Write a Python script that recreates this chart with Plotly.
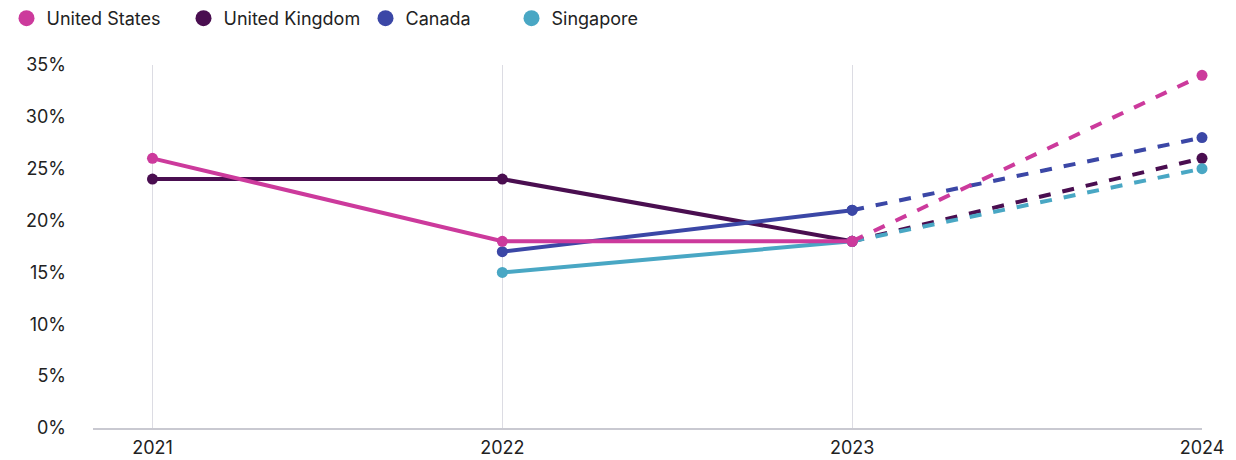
import plotly.graph_objects as go

years = [2021, 2022, 2023, 2024]
countries = ["United States", "United Kingdom", "Canada", "Singapore"]
us = [26, 18, 18, 34]
uk = [24, 24, 18, 26]
canada = [None, 17, 21, 28]
singapore = [None, 15, 18, 25]
y_ticks = [0, 5, 10, 15, 20, 25, 30, 35]
y_tick_labels = [f"{v}%" for v in y_ticks]

colors = {
    "United States": "#cc3a9c",
    "United Kingdom": "#4a0e50",
    "Canada": "#3b47a6",
    "Singapore": "#49a7c4",
}
series = {
    "United States": us,
    "United Kingdom": uk,
    "Canada": canada,
    "Singapore": singapore,
}

W, ML, MR = 1236, 93, 34
PW = W - ML - MR
legend_px = [6.5, 183.5, 365.5, 511.5]
legend_ids = ["legend", "legend2", "legend3", "legend4"]

fig = go.Figure()

for name, lid in zip(countries, legend_ids):
    fig.add_trace(go.Scatter(
        x=[None], y=[None], mode="markers", name=name,
        marker=dict(size=16, color=colors[name]),
        showlegend=True, legend=lid,
    ))

draw_order = ["United Kingdom", "Singapore", "Canada", "United States"]
for name in draw_order:
    vals = series[name]
    c = colors[name]
    fig.add_trace(go.Scatter(
        x=years[:3], y=vals[:3], mode="lines+markers", showlegend=False,
        line=dict(color=c, width=4), marker=dict(size=11, color=c),
        cliponaxis=False, hoverinfo="skip",
    ))
    fig.add_trace(go.Scatter(
        x=years[2:], y=vals[2:], mode="lines+markers", showlegend=False,
        line=dict(color=c, width=4, dash="dash"), marker=dict(size=11, color=c),
        cliponaxis=False, hoverinfo="skip",
    ))

legend_common = dict(
    orientation="h", xanchor="left", yref="container", y=1.0, yanchor="top",
    font=dict(size=18, color="#222222"), itemsizing="trace",
    bgcolor="rgba(0,0,0,0)",
)
layout_legends = {}
for lid, px in zip(legend_ids, legend_px):
    layout_legends[lid] = dict(legend_common, x=(px - ML) / PW)

fig.update_layout(
    width=W, height=460,
    margin=dict(l=ML, r=MR, t=65, b=32),
    paper_bgcolor="white", plot_bgcolor="white",
    font=dict(family="Inter, Roboto, Arial, sans-serif", size=18, color="#222222"),
    showlegend=True,
    **layout_legends,
)

fig.update_xaxes(
    range=[2020.83, 2024], tickmode="array", tickvals=years,
    ticktext=[str(y) for y in years],
    showgrid=True, gridcolor="#dcdce3", gridwidth=1,
    showline=True, linecolor="#c9c9d1", linewidth=2,
    zeroline=False, ticks="", fixedrange=True,
    ticklabelstandoff=2, automargin=False,
)
fig.update_yaxes(
    range=[0, 35], tickmode="array", tickvals=y_ticks, ticktext=y_tick_labels,
    showgrid=False, zeroline=False, showline=False, ticks="",
    ticklabelstandoff=26, fixedrange=True, automargin=False,
)

fig.write_html("out.html")
